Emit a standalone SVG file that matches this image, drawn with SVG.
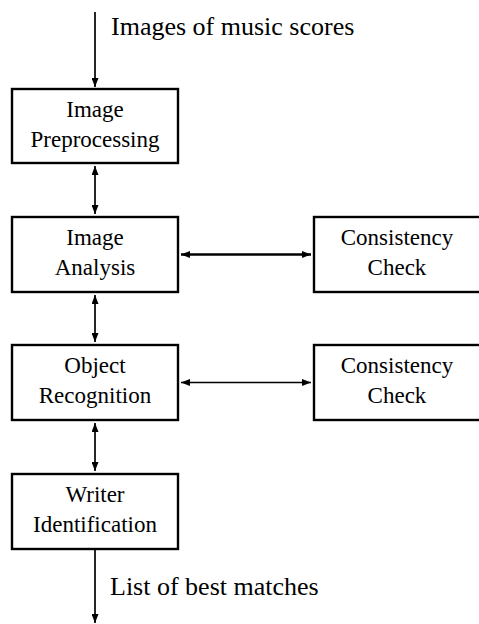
<svg xmlns="http://www.w3.org/2000/svg" width="479" height="624" viewBox="0 0 479 624">
  <style>
    .box { fill: #fff; stroke: #000; stroke-width: 2.4; }
    .lbl { font-family: "Liberation Serif", "DejaVu Serif", serif; font-size: 23px; fill: #000; text-anchor: middle; }
    .io { font-family: "Liberation Serif", "DejaVu Serif", serif; font-size: 26px; fill: #000; }
    .wire { stroke: #000; stroke-width: 1.7; fill: none; }
  </style>
  <defs>
    <marker id="head" viewBox="0 0 9 7" refX="9" refY="3.5" markerWidth="9" markerHeight="7" markerUnits="userSpaceOnUse" orient="auto-start-reverse">
      <path d="M0,0 L9,3.5 L0,7 Z" fill="#000"/>
    </marker>
  </defs>
  <rect width="479" height="624" fill="#fff"/>

  <g id="connectors">
    <line class="wire" x1="95" y1="12" x2="95" y2="87" marker-end="url(#head)"/>
    <line class="wire" x1="95" y1="166" x2="95" y2="214" marker-start="url(#head)" marker-end="url(#head)"/>
    <line class="wire" x1="95" y1="295" x2="95" y2="342" marker-start="url(#head)" marker-end="url(#head)"/>
    <line class="wire" x1="95" y1="423" x2="95" y2="471" marker-start="url(#head)" marker-end="url(#head)"/>
    <line class="wire" x1="95" y1="550" x2="95" y2="623" marker-end="url(#head)"/>
    <line class="wire" style="stroke-width:2.3" x1="181" y1="254.5" x2="311" y2="254.5" marker-start="url(#head)" marker-end="url(#head)"/>
    <line class="wire" x1="181" y1="382.5" x2="311" y2="382.5" marker-start="url(#head)" marker-end="url(#head)"/>
  </g>

  <g id="input-label">
    <text class="io" x="111" y="35">Images of music scores</text>
  </g>

  <g id="preprocessing">
    <rect class="box" x="12" y="89" width="166" height="74"/>
    <text class="lbl" x="95" y="117">Image</text>
    <text class="lbl" x="95" y="147">Preprocessing</text>
  </g>

  <g id="analysis">
    <rect class="box" x="12" y="217" width="166" height="75"/>
    <text class="lbl" x="95" y="245">Image</text>
    <text class="lbl" x="95" y="275">Analysis</text>
  </g>

  <g id="consistency-1">
    <rect class="box" x="314" y="217" width="170" height="75"/>
    <text class="lbl" x="397" y="245">Consistency</text>
    <text class="lbl" x="397" y="275">Check</text>
  </g>

  <g id="recognition">
    <rect class="box" x="12" y="345" width="166" height="75"/>
    <text class="lbl" x="95" y="373">Object</text>
    <text class="lbl" x="95" y="403">Recognition</text>
  </g>

  <g id="consistency-2">
    <rect class="box" x="314" y="345" width="170" height="75"/>
    <text class="lbl" x="397" y="373">Consistency</text>
    <text class="lbl" x="397" y="403">Check</text>
  </g>

  <g id="writer">
    <rect class="box" x="12" y="474" width="166" height="75"/>
    <text class="lbl" x="95" y="502">Writer</text>
    <text class="lbl" x="95" y="532">Identification</text>
  </g>

  <g id="output-label">
    <text class="io" x="110" y="595">List of best matches</text>
  </g>
</svg>
